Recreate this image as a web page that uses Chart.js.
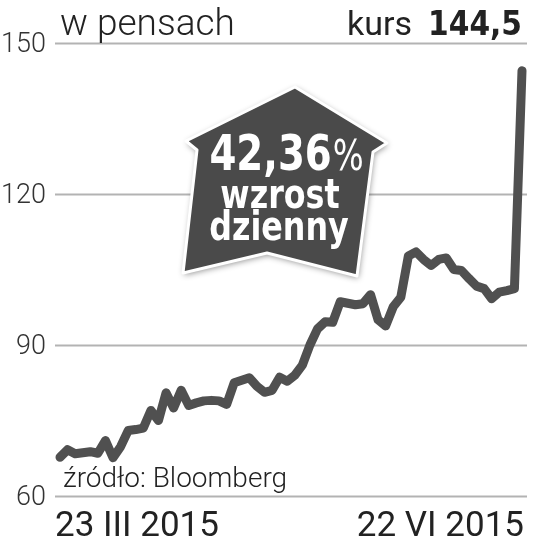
<!DOCTYPE html>
<html lang="pl">
<head>
<meta charset="UTF-8">
<script src="https://cdn.jsdelivr.net/npm/chart.js"></script>
<style>
  body { margin: 0; background: #fff; }
  #box { width: 533px; height: 542px; }
</style>
</head>
<body>
<div id="box"><canvas id="wykres"></canvas></div>
<script>
// dzienne kursy w pensach, 23 III – 22 VI 2015
const dni = ['23 III 2015', '', '', '', '', '', '', '', '', '', '', '', '', '', '', '', '', '', '', '', '', '', '', '', '', '', '', '', '', '', '', '', '', '', '', '', '', '', '', '', '', '', '', '', '', '', '', '', '', '', '', '', '', '', '', '', '', '', '', '', '', '22 VI 2015'];
const kurs = [67.7, 69.2, 68.4, 68.6, 68.8, 68.5, 71.0, 67.6, 69.8, 73.0,
  73.2, 73.5, 77.0, 75.0, 80.5, 77.5, 81.0, 78.0, 78.5, 78.9,
  79.0, 78.9, 78.2, 82.5, 83.0, 83.5, 81.8, 80.6, 81.0, 83.6,
  82.8, 84.0, 86.0, 90.0, 93.2, 94.6, 94.5, 98.6, 98.3, 98.0,
  98.2, 100.0, 95.0, 93.8, 97.6, 99.5, 107.7, 108.5, 107.0, 105.8,
  107.0, 107.3, 105.0, 104.8, 103.2, 101.7, 101.2, 99.2, 100.5, 100.8,
  101.2, 144.5];
const yTicks = [60, 90, 120, 150];
const tytul = 'w pensach';
const ostatni = '144,5';
const wzrost = ['42,36%', 'wzrost', 'dzienny'];
const zrodlo = 'źródło: Bloomberg';

// tekst ścieśniony w poziomie
function waski(c, txt, cx, by, sx) {
  c.save();
  c.translate(cx, by);
  c.scale(sx, 1);
  c.fillText(txt, 0, 0);
  c.restore();
}

const ozdoby = {
  id: 'ozdoby',
  beforeDatasetsDraw(chart) {
    const c = chart.ctx, y = chart.scales.y;
    c.save();
    c.strokeStyle = '#b3b3b3';
    c.lineWidth = 2;
    c.font = '300 27px Roboto';
    c.fillStyle = '#333';
    c.textAlign = 'right';
    c.textBaseline = 'middle';
    yTicks.forEach(t => {
      const py = Math.round(y.getPixelForValue(t)) + 0.5;
      c.beginPath();
      c.moveTo(55, py);
      c.lineTo(527, py);
      c.stroke();
      c.fillText(String(t), 46, py + 2);
    });
    c.restore();
  },
  afterDraw(chart) {
    const c = chart.ctx;
    c.save();
    c.fillStyle = '#222';
    c.textBaseline = 'alphabetic';
    c.textAlign = 'left';
    c.font = '300 37px Roboto';
    c.fillText(tytul, 60, 35);
    c.textAlign = 'right';
    c.font = 'bold 33px "DejaVu Sans Condensed"';
    c.fillText(ostatni, 522, 35);
    const w = c.measureText(ostatni).width;
    c.font = '400 34px Roboto';
    c.fillText('kurs', 522 - w - 16, 35);

    // daty pod osią
    c.font = '400 35px Roboto';
    c.textAlign = 'left';
    c.fillText(dni[0], 55, 536);
    c.textAlign = 'right';
    c.fillText(dni[dni.length - 1], 524, 536);

    c.textAlign = 'left';
    c.font = '300 28px Roboto';
    c.fillText(zrodlo, 63, 487);

    // strzałka-domek
    c.beginPath();
    c.moveTo(295, 87);
    c.lineTo(387, 143);
    c.lineTo(373, 152);
    c.lineTo(357, 276);
    c.lineTo(267, 253);
    c.lineTo(183, 273);
    c.lineTo(197, 150);
    c.lineTo(186, 141);
    c.closePath();
    c.shadowColor = 'rgba(0,0,0,0.45)';
    c.shadowBlur = 6;
    c.shadowOffsetX = 1;
    c.shadowOffsetY = 2;
    c.fillStyle = '#4a4a4a';
    c.fill();
    c.shadowColor = 'transparent';
    c.strokeStyle = '#fff';
    c.lineWidth = 3;
    c.lineJoin = 'round';
    c.stroke();

    c.fillStyle = '#fff';
    c.textAlign = 'left';
    const sx = 0.86;
    const num = wzrost[0].slice(0, -1);
    c.font = 'bold 50px "DejaVu Sans Condensed"';
    const nw = c.measureText(num).width * sx;
    c.font = '400 42px "DejaVu Sans Condensed"';
    const pw = c.measureText('%').width * sx;
    const x0 = 286 - (nw + pw) / 2;
    c.font = 'bold 50px "DejaVu Sans Condensed"';
    waski(c, num, x0, 170, sx);
    c.font = '400 42px "DejaVu Sans Condensed"';
    waski(c, '%', x0 + nw + 1, 170, sx);
    c.textAlign = 'center';
    c.font = 'bold 41px "DejaVu Sans Condensed"';
    waski(c, wzrost[1], 280, 208, sx);
    waski(c, wzrost[2], 279, 240, sx);
    c.restore();
  }
};

new Chart(document.getElementById('wykres'), {
  type: 'line',
  data: {
    labels: dni,
    datasets: [{
      data: kurs,
      borderColor: '#505050',
      borderWidth: 9,
      borderJoinStyle: 'round',
      borderCapStyle: 'round',
      pointRadius: 0,
      tension: 0,
      clip: false
    }]
  },
  options: {
    responsive: true,
    maintainAspectRatio: false,
    animation: false,
    layout: { padding: { left: 60, right: 11, top: 43, bottom: 46 } },
    plugins: { legend: { display: false }, tooltip: { enabled: false } },
    scales: {
      x: { display: false },
      y: { display: false, min: 60, max: 150 }
    }
  },
  plugins: [ozdoby]
});
</script>
</body>
</html>
